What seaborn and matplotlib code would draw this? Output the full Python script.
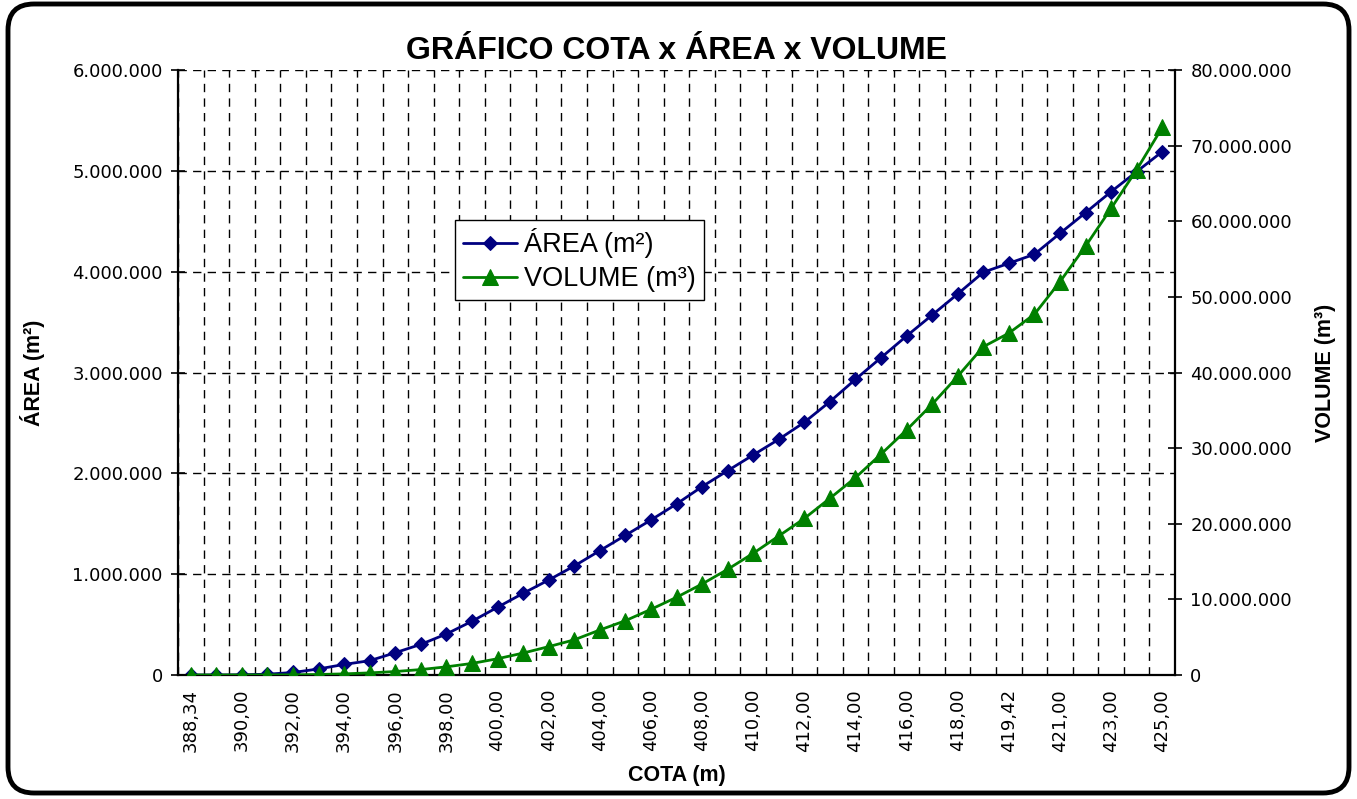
import numpy as np
import pandas as pd
import matplotlib
matplotlib.use("Agg")
import matplotlib.pyplot as plt
import seaborn as sns
from matplotlib.ticker import FuncFormatter, MultipleLocator
from matplotlib.patches import FancyBboxPatch

# cota (m) - categories on the x axis
cota = ["388,34"] + [f"{v},00" for v in range(389, 420)] + ["419,42"] + [f"{v},00" for v in range(420, 426)]

# área (m²)
area = [0, 0, 2000, 8000, 25000, 60000, 105000, 142000, 221000, 304000,
        407000, 533000, 672000, 810000, 942000, 1081000, 1233000, 1385000, 1537000, 1696000,
        1868000, 2026000, 2182000, 2337000, 2506000, 2711000, 2932000, 3147000, 3362000, 3570000,
        3779000, 3994000, 4083000, 4172000, 4380000, 4585000, 4793000, 4992000, 5190000]

# volume (m³)
volume = [0, 0, 2000, 10000, 25000, 70000, 150000, 280000, 460000, 720000,
          1080000, 1530000, 2150000, 2900000, 3750000, 4650000, 5950000, 7180000, 8680000, 10270000,
          12030000, 13970000, 16090000, 18380000, 20700000, 23360000, 26100000, 29200000, 32400000, 35800000,
          39500000, 43400000, 45200000, 47700000, 52000000, 56700000, 61700000, 66800000, 72400000]

df = pd.DataFrame({"cota": cota, "area": area, "volume": volume})
n = len(df)

sns.set_style("white")
plt.rcParams["font.family"] = ["DejaVu Sans"]
plt.rcParams.update({"text.color": "black", "axes.labelcolor": "black",
                     "xtick.color": "black", "ytick.color": "black"})
label_font = ["Liberation Sans", "DejaVu Sans"]

W, H = 1357, 799
fig = plt.figure(figsize=(W / 100, H / 100), dpi=100)
ax = fig.add_axes([178 / W, 1 - 675 / H, 997 / W, 605 / H])
ax2 = ax.twinx()

sns.lineplot(data=df, x="cota", y="area", ax=ax, sort=False, color="#000080", lw=2,
             marker="D", markersize=7.5, markeredgecolor="#000080", label="ÁREA (m²)", legend=False)
sns.lineplot(data=df, x="cota", y="volume", ax=ax2, sort=False, color="#008000", lw=2,
             marker="^", markersize=11.5, markeredgecolor="#008000", label="VOLUME (m³)", legend=False)

dots = lambda v, p: f"{int(round(v)):,}".replace(",", ".")

# x axis: ticks/grid between categories, labels on every other category
ax.set_xlim(-0.5, n - 0.5)
ax.set_xticks(np.arange(-0.5, n, 1.0))
ax.set_xticklabels([])
ax.set_xticks(np.arange(0, n, 2), minor=True)
ax.set_xticklabels(cota[::2], minor=True, rotation=90)
ax.tick_params(axis="x", which="major", direction="inout", length=9, width=1.2, color="black")
ax.tick_params(axis="x", which="minor", length=0, pad=10, labelsize=13, labelcolor="black")

ax.set_ylim(0, 6000000)
ax.yaxis.set_major_locator(MultipleLocator(1000000))
ax.yaxis.set_major_formatter(FuncFormatter(dots))
ax.tick_params(axis="y", direction="inout", length=10, width=1.2, labelsize=13, pad=6, labelcolor="black")

ax2.set_ylim(0, 80000000)
ax2.yaxis.set_major_locator(MultipleLocator(10000000))
ax2.yaxis.set_major_formatter(FuncFormatter(dots))
ax2.tick_params(axis="y", direction="inout", length=10, width=1.2, labelsize=13, pad=6, labelcolor="black")

ax.grid(True, axis="both", which="major", color="black", lw=1.0, linestyle=(0, (6, 4.5)))
ax.get_ygridlines()[-1].set_visible(False)

for a in (ax, ax2):
    for s in a.spines.values():
        s.set_color("black")
        s.set_linewidth(1.6)
    a.spines["top"].set_visible(False)
ax.spines["right"].set_visible(False)
ax2.spines["left"].set_visible(False)
ax2.spines["bottom"].set_visible(False)

ax.set_title("GRÁFICO COTA x ÁREA x VOLUME", fontsize=23, fontweight="bold", family=label_font,
             pad=8, color="black")
ax.set_xlabel("COTA (m)", fontsize=15.5, fontweight="bold", family=label_font, color="black")
ax.set_ylabel("ÁREA (m²)", fontsize=15.5, fontweight="bold", family=label_font, color="black")
ax2.set_ylabel("VOLUME (m³)", fontsize=15.5, fontweight="bold", family=label_font, color="black")
ax.xaxis.set_label_coords(0.5, -(765 - 675) / 605)
ax.yaxis.set_label_coords((45 - 178) / 997, 0.5)
ax2.yaxis.set_label_coords((1315 - 178) / 997, 0.5)

h1, l1 = ax.get_legend_handles_labels()
h2, l2 = ax2.get_legend_handles_labels()
leg = ax2.legend(h1 + h2, l1 + l2, loc="upper left", bbox_to_anchor=(0.278, 0.752),
                 prop={"family": label_font, "size": 19.5}, frameon=True, fancybox=False,
                 edgecolor="black", framealpha=1, handlelength=2.0, handletextpad=0.25,
                 borderpad=0.3, labelspacing=0.3, borderaxespad=0)
leg.get_frame().set_linewidth(1.0)

frame = FancyBboxPatch((8, 6), W - 16, H - 10, boxstyle="round,pad=0,rounding_size=26",
                       transform=None, fill=False, edgecolor="black", lw=3.5)
fig.add_artist(frame)

fig.savefig("out.png", dpi=100)
